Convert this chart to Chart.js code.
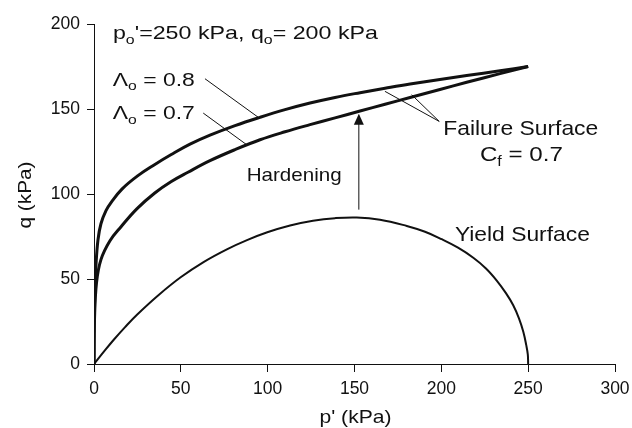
<!DOCTYPE html>
<html>
<head>
<meta charset="utf-8">
<script src="https://cdn.jsdelivr.net/npm/chart.js@4/dist/chart.umd.min.js"></script>
<style>
  html, body { margin: 0; padding: 0; background: #fff; }
  #wrap { width: 632px; height: 428px; }
</style>
</head>
<body>
<div id="wrap"><canvas id="c" width="632" height="428"></canvas></div>
<script>
// Yield surface, p' and q in kPa
const yieldP = [0, 5.8, 11.5, 17.9, 24.9, 36.9, 49.9, 63.3, 76.8, 88.1, 99.8, 112.9, 126.1, 138.8, 151.3, 164.7, 180.1, 190.6, 200.2, 209.6, 218.4, 225.7, 231.9, 237.2, 241.4, 244.7, 247.2, 248.9, 249.8, 250];
const yieldQ = [0, 7.4, 14.4, 21.7, 29.1, 40.3, 51.0, 60.1, 67.6, 72.9, 77.5, 81.5, 84.3, 85.8, 86.2, 84.9, 81.2, 77.8, 73.4, 68.4, 62.5, 56.2, 49.1, 41.7, 34.6, 26.9, 19.0, 11.1, 5.5, 0];

// Failure surface for Λo = 0.8
const fail08P = [0, 0.17, 0.58, 1.15, 2.3, 4.0, 6.9, 10.0, 16.1, 25.3, 34.6, 44.5, 55.3, 66.8, 81.2, 95.6, 110.0, 124.4, 138.8, 153.2, 167.6, 182.0, 199.2, 214.6, 233.8, 250];
const fail08Q = [0, 26.1, 43.7, 58.4, 73.1, 82.5, 90.2, 95.2, 102.9, 110.8, 117.1, 123.2, 129.3, 134.6, 140.2, 145.1, 149.6, 153.5, 156.8, 159.6, 162.2, 164.7, 167.4, 169.7, 172.5, 175];

// Failure surface for Λo = 0.7
const fail07P = [0, 0.29, 1.44, 4.0, 9.2, 15.7, 24.8, 35.0, 44.3, 54.1, 66.8, 81.2, 95.6, 110.0, 124.4, 138.8, 153.2, 167.6, 182.0, 199.2, 214.6, 233.8, 250];
const fail07Q = [0, 26.1, 47.8, 61.4, 72.5, 80.9, 91.4, 100.6, 107.2, 112.8, 119.6, 126.1, 131.9, 136.6, 140.8, 144.8, 148.8, 152.8, 156.8, 161.5, 165.7, 170.8, 175];

// Axis ticks
const xTicks = [0, 50, 100, 150, 200, 250, 300];
const yTicks = [0, 50, 100, 150, 200];

// Hardening arrow: p' and the q range it spans
const hardenP = 152.5;
const hardenFromQ = 90.8;
const hardenToQ = 147.2;

const INK = '#111';
const FONT = '"Liberation Sans", Arial, sans-serif';

const pts = (ps, qs) => ps.map((p, i) => ({ x: p, y: qs[i] }));

function curve(ps, qs, width) {
  return {
    data: pts(ps, qs),
    showLine: true,
    borderColor: INK,
    borderWidth: width,
    borderJoinStyle: 'round',
    pointRadius: 0,
    tension: 0.4,
    fill: false
  };
}

function leader(a, b) {
  return {
    data: [{ x: a[0], y: a[1] }, { x: b[0], y: b[1] }],
    showLine: true,
    borderColor: INK,
    borderWidth: 1,
    pointRadius: 0,
    tension: 0,
    fill: false
  };
}

// Text made of runs, some of which are subscripts; stretched to a given width
function drawRuns(ctx, runs, x, y, size, targetW) {
  const fontOf = r => (r.sub ? Math.round(size * 0.68) : size) + 'px ' + FONT;
  let w = 0;
  runs.forEach(r => { ctx.font = fontOf(r); w += ctx.measureText(r.t).width; });
  const sx = targetW ? targetW / w : 1;
  ctx.save();
  ctx.translate(x, y);
  ctx.scale(sx, 1);
  ctx.fillStyle = INK;
  ctx.textBaseline = 'alphabetic';
  ctx.textAlign = 'left';
  let cx = 0;
  runs.forEach(r => {
    ctx.font = fontOf(r);
    ctx.fillText(r.t, cx, r.sub ? size * 0.24 : 0);
    cx += ctx.measureText(r.t).width;
  });
  ctx.restore();
  return w * sx;
}

// Labels placed in data coordinates (left edge, baseline)
const notes = [
  { runs: [{ t: 'p' }, { t: 'o', sub: true }, { t: "'=250 kPa, q" }, { t: 'o', sub: true }, { t: '= 200 kPa' }], p: 10.9, q: 191.2, size: 19, w: 265 },
  { runs: [{ t: 'Λ' }, { t: 'o', sub: true }, { t: ' = 0.8' }], p: 10.8, q: 163.7, size: 19, w: 82 },
  { runs: [{ t: 'Λ' }, { t: 'o', sub: true }, { t: ' = 0.7' }], p: 10.8, q: 144.1, size: 19, w: 82 },
  { runs: [{ t: 'Hardening' }], p: 87.9, q: 107.4, size: 19, w: 95 },
  { runs: [{ t: 'Failure Surface' }], p: 201.1, q: 134.9, size: 21, w: 155 },
  { runs: [{ t: 'C' }, { t: 'f', sub: true }, { t: ' = 0.7' }], p: 222.2, q: 119.2, size: 21, w: 83 },
  { runs: [{ t: 'Yield Surface' }], p: 207.8, q: 72.1, size: 21, w: 135 }
];

const annotate = {
  id: 'annotate',
  afterDatasetsDraw(chart) {
    const { ctx, chartArea } = chart;
    const xs = chart.scales.x, ys = chart.scales.y;

    // hardening arrow
    const ax = xs.getPixelForValue(hardenP);
    const y0 = ys.getPixelForValue(hardenFromQ);
    const y1 = ys.getPixelForValue(hardenToQ);
    const headL = 11, headW = 5;
    ctx.save();
    ctx.strokeStyle = INK;
    ctx.fillStyle = INK;
    ctx.lineWidth = 1;
    ctx.beginPath();
    ctx.moveTo(ax, y0);
    ctx.lineTo(ax, y1 + headL - 1);
    ctx.stroke();
    ctx.beginPath();
    ctx.moveTo(ax, y1);
    ctx.lineTo(ax - headW, y1 + headL);
    ctx.lineTo(ax + headW, y1 + headL);
    ctx.closePath();
    ctx.fill();
    ctx.restore();

    notes.forEach(n => {
      drawRuns(ctx, n.runs, xs.getPixelForValue(n.p), ys.getPixelForValue(n.q), n.size, n.w);
    });

    // axis titles
    const cxMid = (chartArea.left + chartArea.right) / 2 + 1;
    drawRuns(ctx, [{ t: "p' (kPa)" }], cxMid - 36, 422.7, 19, 72);
    ctx.save();
    ctx.translate(31, (chartArea.top + chartArea.bottom) / 2 + 1);
    ctx.rotate(-Math.PI / 2);
    drawRuns(ctx, [{ t: 'q (kPa)' }], -33.5, 0, 19, 67);
    ctx.restore();
  }
};

new Chart(document.getElementById('c'), {
  type: 'scatter',
  data: {
    datasets: [
      curve(fail08P, fail08Q, 3),
      curve(fail07P, fail07Q, 3),
      curve(yieldP, yieldQ, 2),
      leader([63.9, 167.8], [94.6, 145.1]),
      leader([62.9, 147.6], [87.9, 129]),
      leader([198.8, 142.7], [167.5, 160.4]),
      leader([198.8, 142.7], [182.9, 158.4])
    ]
  },
  options: {
    responsive: false,
    animation: false,
    devicePixelRatio: 1,
    layout: { padding: { top: 24, right: 17, left: 0, bottom: 0 } },
    plugins: { legend: { display: false }, tooltip: { enabled: false }, title: { display: false } },
    scales: {
      x: {
        type: 'linear',
        min: 0, max: 300,
        afterBuildTicks: s => { s.ticks = xTicks.map(v => ({ value: v })); },
        afterFit: s => { s.height = 64; s.paddingLeft = 0; s.paddingRight = 0; },
        grid: { drawOnChartArea: false, drawTicks: true, tickLength: 8, color: INK, lineWidth: 1 },
        border: { display: true, color: INK, width: 1 },
        ticks: { color: INK, padding: 7, font: { family: FONT, size: 17.5 }, maxRotation: 0 }
      },
      y: {
        type: 'linear',
        min: 0, max: 200,
        afterBuildTicks: s => { s.ticks = yTicks.map(v => ({ value: v })); },
        afterFit: s => { s.width = 94; s.paddingTop = 0; s.paddingBottom = 0; },
        grid: { drawOnChartArea: false, drawTicks: true, tickLength: 7, color: INK, lineWidth: 1 },
        border: { display: true, color: INK, width: 1 },
        ticks: { color: INK, padding: 7, font: { family: FONT, size: 17.5 } }
      }
    }
  },
  plugins: [annotate]
});
</script>
</body>
</html>
